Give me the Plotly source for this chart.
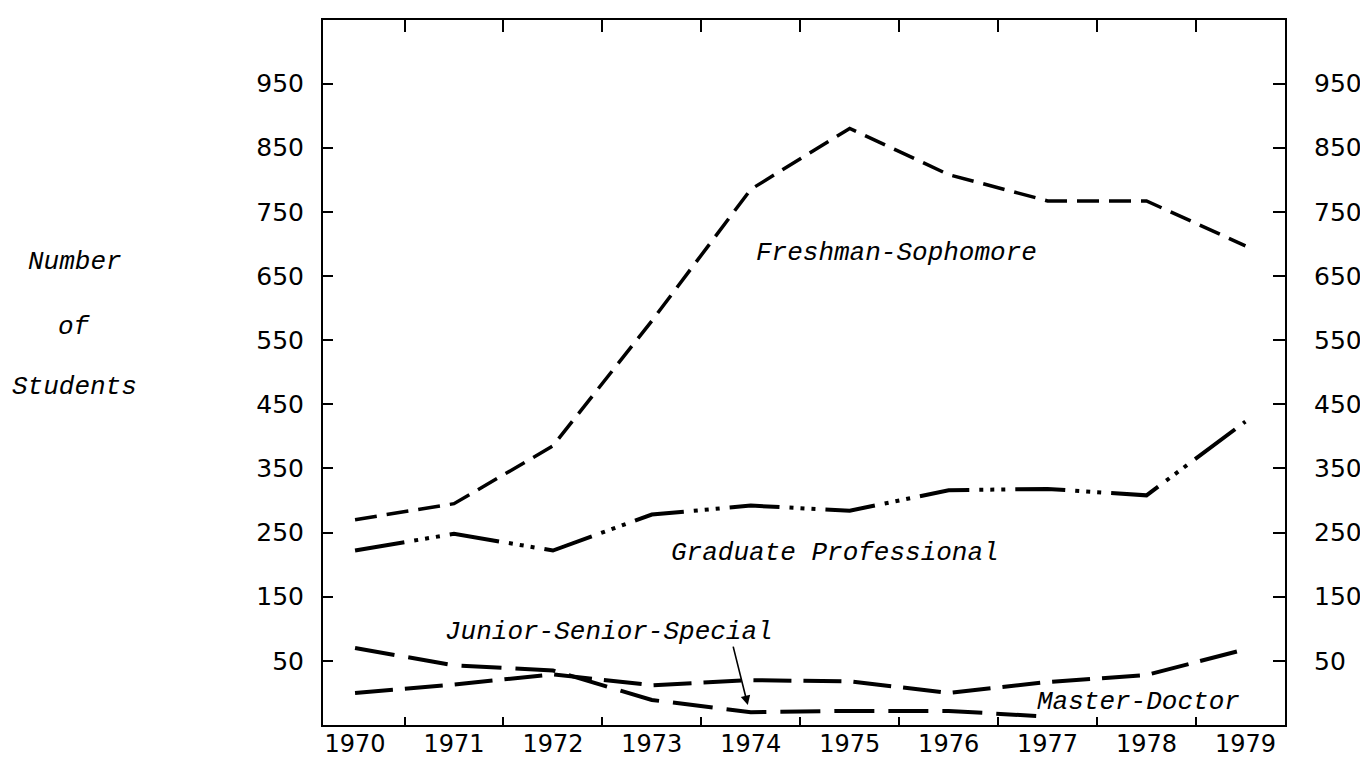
import plotly.graph_objects as go

# ---- data ----
years = [1970, 1971, 1972, 1973, 1974, 1975, 1976, 1977, 1978, 1979]
freshman_sophomore = [270, 295, 385, 580, 785, 880, 808, 767, 767, 697]
graduate_professional = [222, 248, 222, 278, 292, 284, 316, 318, 308, 423]
junior_years = [1970, 1971, 1972, 1973, 1974, 1975, 1976, 1977]
junior_senior_special = [70, 43, 35, -11, -30, -28, -28, -37]
master_doctor = [0, 13, 29, 12, 20, 18, 0, 17, 28, 68]

y_ticks = [50, 150, 250, 350, 450, 550, 650, 750, 850, 950]
x_tick_labels = [str(y) for y in years]
half_years = [y + 0.5 for y in years[:-1]]

X_RANGE = [1969.676, 1979.40]
Y_RANGE = [-50, 1049]

TICK_FONT = dict(family="DejaVu Sans", size=25, color="black")
XTICK_FONT = dict(family="DejaVu Sans", size=24, color="black")
LABEL_FONT = dict(family="Liberation Mono", size=26, color="black", style="italic")

fig = go.Figure()

fig.add_trace(go.Scatter(
    x=years, y=freshman_sophomore, mode="lines", name="Freshman-Sophomore",
    line=dict(color="black", width=3.5, dash="22px,10px"), hoverinfo="skip"))
fig.add_trace(go.Scatter(
    x=years, y=graduate_professional, mode="lines", name="Graduate Professional",
    line=dict(color="black", width=4, dash="50px,10px,4px,7px,4px,7px,4px,10px"),
    hoverinfo="skip"))
fig.add_trace(go.Scatter(
    x=junior_years, y=junior_senior_special, mode="lines", name="Junior-Senior-Special",
    line=dict(color="black", width=4, dash="40px,14px"), hoverinfo="skip"))
fig.add_trace(go.Scatter(
    x=years, y=master_doctor, mode="lines", name="Master-Doctor",
    line=dict(color="black", width=4, dash="38px,12px"), hoverinfo="skip"))
# invisible trace to anchor the mirrored (top / right) axes
fig.add_trace(go.Scatter(
    x=years, y=master_doctor, mode="lines", xaxis="x2", yaxis="y2",
    line=dict(color="rgba(0,0,0,0)", width=0), showlegend=False, hoverinfo="skip"))

fig.update_layout(
    width=1368, height=759,
    margin=dict(l=315, r=91, t=12, b=42, autoexpand=False),
    paper_bgcolor="white", plot_bgcolor="white",
    showlegend=False,
    xaxis=dict(
        range=X_RANGE, tickmode="array", tickvals=years, ticktext=x_tick_labels,
        ticks="", showgrid=False, zeroline=False, automargin=False,
        showline=True, linecolor="black", linewidth=2,
        tickfont=XTICK_FONT, ticklabelstandoff=-4,
        minor=dict(tickmode="array", tickvals=half_years, ticks="inside",
                   ticklen=8, tickwidth=1.5, tickcolor="black", showgrid=False),
    ),
    xaxis2=dict(
        range=X_RANGE, overlaying="x", side="top", anchor="y",
        tickmode="array", tickvals=half_years, ticks="inside", ticklen=12,
        tickwidth=1.5, tickcolor="black", showticklabels=False,
        showgrid=False, zeroline=False, automargin=False,
        showline=True, linecolor="black", linewidth=2,
    ),
    yaxis=dict(
        range=Y_RANGE, tickmode="array", tickvals=y_ticks,
        ticks="inside", ticklen=10, tickwidth=1.5, tickcolor="black",
        showgrid=False, zeroline=False, automargin=False,
        showline=True, linecolor="black", linewidth=2,
        tickfont=TICK_FONT, ticklabelstandoff=12,
    ),
    yaxis2=dict(
        range=Y_RANGE, overlaying="y", side="right", anchor="x",
        tickmode="array", tickvals=y_ticks,
        ticks="inside", ticklen=12, tickwidth=1.5, tickcolor="black",
        showgrid=False, zeroline=False, automargin=False,
        showline=True, linecolor="black", linewidth=2,
        tickfont=TICK_FONT, ticklabelstandoff=22,
    ),
)

# series labels
fig.add_annotation(x=1975.47, y=686, text="Freshman-Sophomore", showarrow=False,
                   font=LABEL_FONT, xanchor="center", yanchor="middle")
fig.add_annotation(x=1974.85, y=218, text="Graduate Professional", showarrow=False,
                   font=LABEL_FONT, xanchor="center", yanchor="middle")
fig.add_annotation(x=1972.57, y=95, text="Junior-Senior-Special", showarrow=False,
                   font=LABEL_FONT, xanchor="center", yanchor="middle")
fig.add_annotation(x=1977.92, y=-14, text="Master-Doctor", showarrow=False,
                   font=LABEL_FONT, xanchor="center", yanchor="middle")
# arrow pointing at Junior-Senior-Special line
fig.add_annotation(x=1973.97, y=-19, text="", showarrow=True, arrowhead=2,
                   arrowsize=1.2, arrowwidth=1.6, arrowcolor="black",
                   ax=-15, ay=-60)

# y axis title (three lines)
for txt, yp in [("Number", 0.657), ("of", 0.565), ("Students", 0.479)]:
    fig.add_annotation(xref="paper", yref="paper", x=-0.258, y=yp, text=txt,
                       showarrow=False, font=LABEL_FONT,
                       xanchor="center", yanchor="middle")

fig.write_html("out.html")
